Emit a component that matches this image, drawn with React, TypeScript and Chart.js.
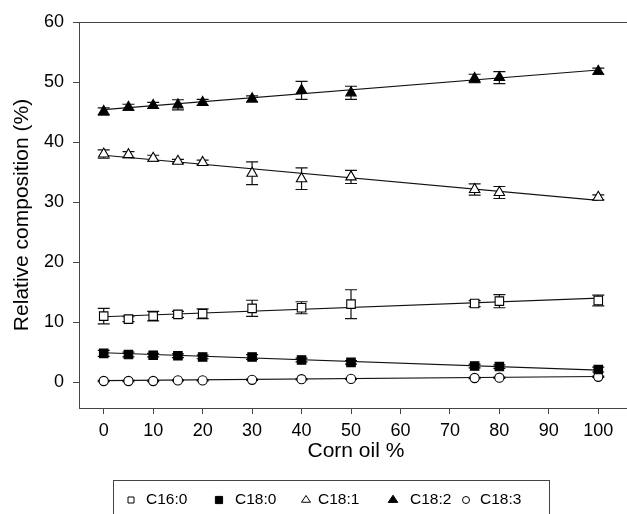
import React, { useEffect, useRef } from "react";
import { Chart, registerables } from "chart.js";

Chart.register(...registerables);

// ---- data ----
const cornOil = [0, 5, 10, 15, 20, 30, 40, 50, 75, 80, 100];
const seriesNames = ["C16:0", "C18:0", "C18:1", "C18:2", "C18:3"];

const c160 = [11.0, 10.5, 11.0, 11.3, 11.4, 12.3, 12.4, 13.0, 13.1, 13.5, 13.6];
const c160Err = [1.3, 0.4, 0.8, 0.5, 0.8, 1.35, 1.0, 2.4, 0.5, 1.1, 0.9];

const c180 = [4.8, 4.6, 4.5, 4.4, 4.2, 4.2, 3.7, 3.3, 2.7, 2.6, 2.1];
const c180Err = [0.5, 0.4, 0.3, 0.3, 0.3, 0.4, 0.3, 0.3, 0.3, 0.3, 0.4];

const c181 = [38.0, 37.9, 37.3, 36.8, 36.6, 34.8, 33.9, 34.2, 32.1, 31.6, 30.8];
const c181Err = [0.7, 0.5, 0.5, 0.3, 0.4, 1.9, 1.8, 1.1, 0.95, 1.0, 0.4];

const c182 = [45.1, 45.8, 46.1, 46.2, 46.6, 47.2, 48.6, 48.2, 50.6, 50.75, 51.8];
const c182Err = [0.6, 0.5, 0.5, 0.85, 0.5, 0.5, 1.5, 1.1, 0.7, 1.0, 0.5];

const c183 = [0.2, 0.2, 0.2, 0.3, 0.3, 0.4, 0.5, 0.55, 0.7, 0.75, 0.9];
const c183Err = [0.1, 0.1, 0.1, 0.1, 0.1, 0.1, 0.1, 0.1, 0.1, 0.1, 0.1];

// linear fit lines (at x = 0 and x = 100)
const fitX = [0, 100];
const c160Fit = [10.9, 14.0];
const c180Fit = [4.9, 2.0];
const c181Fit = [37.8, 30.3];
const c182Fit = [45.4, 52.0];
const c183Fit = [0.25, 0.95];

const xTicks = [0, 10, 20, 30, 40, 50, 60, 70, 80, 90, 100];
const yTicks = [0, 10, 20, 30, 40, 50, 60];

// ---- styles ----
const FONT = "'Liberation Sans', Arial, Helvetica, sans-serif";
const seriesStyles = [
  { pointStyle: "rect", filled: false, radius: 6 },
  { pointStyle: "rect", filled: true, radius: 6 },
  { pointStyle: "triangle", filled: false, radius: 6 },
  { pointStyle: "triangle", filled: true, radius: 6 },
  { pointStyle: "circle", filled: false, radius: 4.6 },
];
const seriesValues = [c160, c180, c181, c182, c183];
const seriesErrors = [c160Err, c180Err, c181Err, c182Err, c183Err];
const seriesFits = [c160Fit, c180Fit, c181Fit, c182Fit, c183Fit];

const errorBarPlugin = {
  id: "errorBars",
  beforeDatasetsDraw(chart: any) {
    const ctx = chart.ctx;
    const xs = chart.scales.x;
    const ys = chart.scales.y;
    ctx.save();
    ctx.strokeStyle = "#111";
    ctx.lineWidth = 1.2;
    chart.data.datasets.forEach((ds: any) => {
      const errs = ds.errors;
      if (!errs) return;
      ds.data.forEach((p: any, j: number) => {
        const x = xs.getPixelForValue(p.x);
        const yTop = ys.getPixelForValue(p.y + errs[j]);
        const yBot = ys.getPixelForValue(p.y - errs[j]);
        ctx.beginPath();
        ctx.moveTo(x, yTop);
        ctx.lineTo(x, yBot);
        ctx.moveTo(x - 6, yTop);
        ctx.lineTo(x + 6, yTop);
        ctx.moveTo(x - 6, yBot);
        ctx.lineTo(x + 6, yBot);
        ctx.stroke();
      });
    });
    ctx.restore();
  },
};

const framePlugin = {
  id: "frameTop",
  afterDraw(chart: any) {
    const { ctx, chartArea } = chart;
    ctx.save();
    ctx.strokeStyle = "#444";
    ctx.lineWidth = 1;
    ctx.beginPath();
    ctx.moveTo(chartArea.left, Math.round(chartArea.top) + 0.5);
    ctx.lineTo(chartArea.right, Math.round(chartArea.top) + 0.5);
    ctx.stroke();
    ctx.restore();
  },
};

function drawMarker(ctx: CanvasRenderingContext2D, style: string, filled: boolean, x: number, y: number, r: number) {
  ctx.beginPath();
  if (style === "rect") {
    ctx.rect(x - r, y - r, 2 * r, 2 * r);
  } else if (style === "triangle") {
    const h = r * 1.5;
    ctx.moveTo(x, y - (2 / 3) * h);
    ctx.lineTo(x + r * 0.866 * 1.15, y + h / 3);
    ctx.lineTo(x - r * 0.866 * 1.15, y + h / 3);
    ctx.closePath();
  } else {
    ctx.arc(x, y, r, 0, Math.PI * 2);
  }
  ctx.fillStyle = filled ? "#000" : "#fff";
  ctx.fill();
  ctx.strokeStyle = "#000";
  ctx.lineWidth = 1;
  ctx.stroke();
}

const legendMarkerX = [131, 219, 306, 393, 466];
const legendTextX = [146, 235, 318, 410, 480];
const legendMarkerR = [3, 3.6, 4.5, 4.8, 3.5];

const legendPlugin = {
  id: "boxLegend",
  afterDraw(chart: any) {
    const ctx: CanvasRenderingContext2D = chart.ctx;
    ctx.save();
    ctx.strokeStyle = "#444";
    ctx.lineWidth = 1;
    ctx.strokeRect(113.5, 480.5, 436, 60);
    const cy = 500;
    seriesNames.forEach((name, i) => {
      const st = seriesStyles[i];
      drawMarker(ctx, st.pointStyle, st.filled, legendMarkerX[i], cy, legendMarkerR[i]);
      ctx.fillStyle = "#000";
      ctx.font = `15.5px ${FONT}`;
      ctx.textBaseline = "middle";
      ctx.textAlign = "left";
      ctx.fillText(name, legendTextX[i], cy);
    });
    ctx.restore();
  },
};

export default function App() {
  const ref = useRef<HTMLCanvasElement>(null);

  useEffect(() => {
    if (!ref.current) return;
    const markerSets = seriesNames.map((name, i) => ({
      type: "scatter" as const,
      label: name,
      data: cornOil.map((x, j) => ({ x, y: seriesValues[i][j] })),
      errors: seriesErrors[i],
      pointStyle: seriesStyles[i].pointStyle,
      pointRadius: seriesStyles[i].radius,
      pointBackgroundColor: seriesStyles[i].filled ? "#000" : "#fff",
      pointBorderColor: "#000",
      pointBorderWidth: 1.1,
      showLine: false,
      order: 0,
    }));
    const fitSets = seriesNames.map((name, i) => ({
      type: "scatter" as const,
      label: name + " fit",
      data: fitX.map((x, j) => ({ x, y: seriesFits[i][j] })),
      showLine: true,
      borderColor: "#111",
      borderWidth: 1.2,
      pointRadius: 0,
      order: 1,
    }));

    const chart = new Chart(ref.current, {
      type: "scatter",
      data: { datasets: [...markerSets, ...fitSets] as any },
      options: {
        animation: false,
        responsive: false,
        devicePixelRatio: 1,
        layout: { padding: { left: 0, right: 0, top: 22, bottom: 44 } },
        plugins: { legend: { display: false }, tooltip: { enabled: false } },
        scales: {
          x: {
            type: "linear",
            min: -5,
            max: 107,
            afterBuildTicks: (scale: any) => {
              scale.ticks = xTicks.map((v) => ({ value: v }));
            },
            afterFit: (scale: any) => {
              scale.height = 62;
            },
            grid: { display: true, drawOnChartArea: false, drawTicks: true, tickLength: 6, color: "#444" },
            border: { display: true, color: "#444", width: 1 },
            ticks: { color: "#000", font: { family: FONT, size: 18 }, padding: 6, maxRotation: 0, autoSkip: false },
            title: { display: true, text: "Corn oil %", color: "#000", font: { family: FONT, size: 21 }, padding: { top: 0, bottom: 6 } },
          },
          y: {
            type: "linear",
            min: -4.3,
            max: 60,
            afterBuildTicks: (scale: any) => {
              scale.ticks = yTicks.map((v) => ({ value: v }));
            },
            afterFit: (scale: any) => {
              scale.width = 79;
            },
            grid: { display: true, drawOnChartArea: false, drawTicks: true, tickLength: 6, color: "#444" },
            border: { display: true, color: "#444", width: 1 },
            ticks: { color: "#000", font: { family: FONT, size: 18 }, padding: 9, autoSkip: false },
            title: { display: true, text: "Relative composition (%)", color: "#000", font: { family: FONT, size: 21 }, padding: { top: 10, bottom: 0 } },
          },
        },
      },
      plugins: [errorBarPlugin, framePlugin, legendPlugin],
    });
    return () => chart.destroy();
  }, []);

  return (
    <div style={{ position: "fixed", left: 0, top: 0, width: 627, height: 514, overflow: "hidden", background: "#fff" }}>
      <canvas ref={ref} width={640} height={514} style={{ display: "block", width: 640, height: 514 }} />
    </div>
  );
}
